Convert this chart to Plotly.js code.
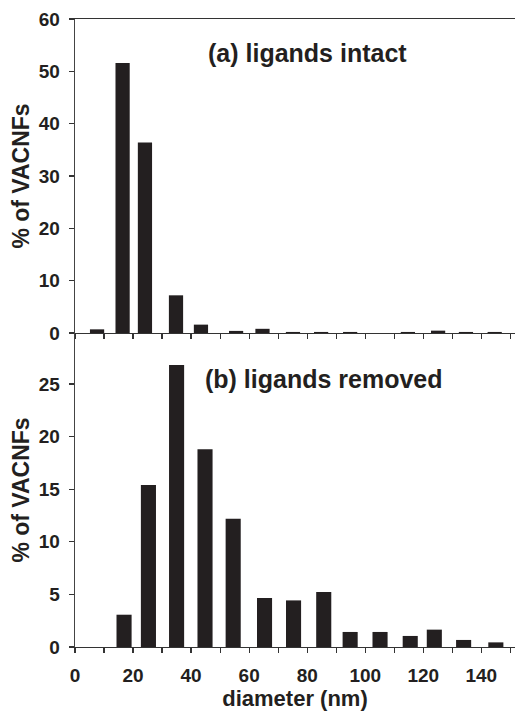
<!DOCTYPE html>
<html>
<head>
<meta charset="utf-8">
<script src="https://cdn.plot.ly/plotly-3.0.1.min.js"></script>
<style>html,body{margin:0;padding:0;background:#fff;}#chart{width:515px;height:712px;}</style>
</head>
<body>
<div id="chart"></div>
<script>
// (a) ligands intact
var diamA = [7.6, 16.4, 24.1, 34.8, 43.4, 55.5, 64.6, 75.1, 84.8, 94.8, 114.7, 125.1, 134.7, 144.6];
var pctA  = [0.7, 51.6, 36.4, 7.2, 1.6, 0.4, 0.8, 0.2, 0.2, 0.2, 0.2, 0.45, 0.2, 0.2];
// (b) ligands removed
var diamB = [16.9, 25.3, 35.0, 44.8, 54.5, 65.3, 75.3, 85.7, 94.8, 105.1, 115.5, 123.8, 133.9, 145.0];
var pctB  = [3.07, 15.4, 26.8, 18.8, 12.2, 4.66, 4.43, 5.23, 1.43, 1.43, 1.05, 1.65, 0.67, 0.44];

var xTickVals = [0,10,20,30,40,50,60,70,80,90,100,110,120,130,140,150];
var xTickText = ['0','','20','','40','','60','','80','','100','','120','','140',''];
var yTickValsA = [0,10,20,30,40,50,60];
var yTickValsB = [0,5,10,15,20,25];

var ink = '#231f20';
var fontFam = '"Liberation Sans", Arial, sans-serif';

var traces = [
  {type:'bar', x: diamA, y: pctA, xaxis:'x', yaxis:'y', width: 4.9,
   marker:{color: ink, line:{width:0}}, hoverinfo:'skip'},
  {type:'bar', x: diamB, y: pctB, xaxis:'x2', yaxis:'y2', width: 5.2,
   marker:{color: ink, line:{width:0}}, hoverinfo:'skip'}
];

var axisCommonX = {
  range:[0,151.6], showline:true, linecolor:'#333', linewidth:1.3,
  ticks:'outside', ticklen:5, tickwidth:1.2, tickcolor:'#333',
  tickmode:'array', tickvals: xTickVals, showgrid:false, zeroline:false,
  tickfont:{family:fontFam, size:19, color:ink, weight:'bold'}
};

var layout = {
  width:515, height:712,
  margin:{l:75, r:0, t:19, b:65, pad:0},
  paper_bgcolor:'#fff', plot_bgcolor:'#fff',
  showlegend:false,
  font:{family:fontFam, color:ink},
  xaxis: Object.assign({}, axisCommonX, {
    anchor:'y', domain:[0,1], mirror:true, showticklabels:false, ticktext: xTickText
  }),
  yaxis: {
    anchor:'x', domain:[0.5,1], range:[0,60], showline:true, linecolor:'#444', linewidth:1.3,
    ticks:'outside', ticklen:5, tickwidth:1.2, tickcolor:'#333',
    tickmode:'array', tickvals: yTickValsA, showgrid:false, zeroline:false,
    ticklabelstandoff:5,
    tickfont:{family:fontFam, size:19, color:ink, weight:'bold'},
    title:{text:'% of VACNFs', font:{family:fontFam, size:23, color:ink, weight:'bold'}, standoff:2}
  },
  xaxis2: Object.assign({}, axisCommonX, {
    anchor:'y2', domain:[0,1], ticktext: xTickText, ticklabelstandoff:6,
    title:{text:'diameter (nm)', font:{family:fontFam, size:22, color:ink, weight:'bold'}, standoff:1}
  }),
  yaxis2: {
    anchor:'x2', domain:[0,0.5], range:[0,29.85], showline:true, linecolor:'#444', linewidth:1.3,
    ticks:'outside', ticklen:5, tickwidth:1.2, tickcolor:'#333',
    tickmode:'array', tickvals: yTickValsB, showgrid:false, zeroline:false,
    ticklabelstandoff:5,
    tickfont:{family:fontFam, size:19, color:ink, weight:'bold'},
    title:{text:'% of VACNFs', font:{family:fontFam, size:23, color:ink, weight:'bold'}, standoff:2}
  },
  annotations:[
    {text:'(a) ligands intact', xref:'paper', yref:'paper', x:0.529, y:0.946,
     xanchor:'center', yanchor:'middle', showarrow:false,
     font:{family:fontFam, size:25, color:ink, weight:'bold'}},
    {text:'(b) ligands removed', xref:'paper', yref:'paper', x:0.567, y:0.427,
     xanchor:'center', yanchor:'middle', showarrow:false,
     font:{family:fontFam, size:25, color:ink, weight:'bold'}}
  ]
};

Plotly.newPlot('chart', traces, layout, {staticPlot:true, displayModeBar:false});
</script>
</body>
</html>
